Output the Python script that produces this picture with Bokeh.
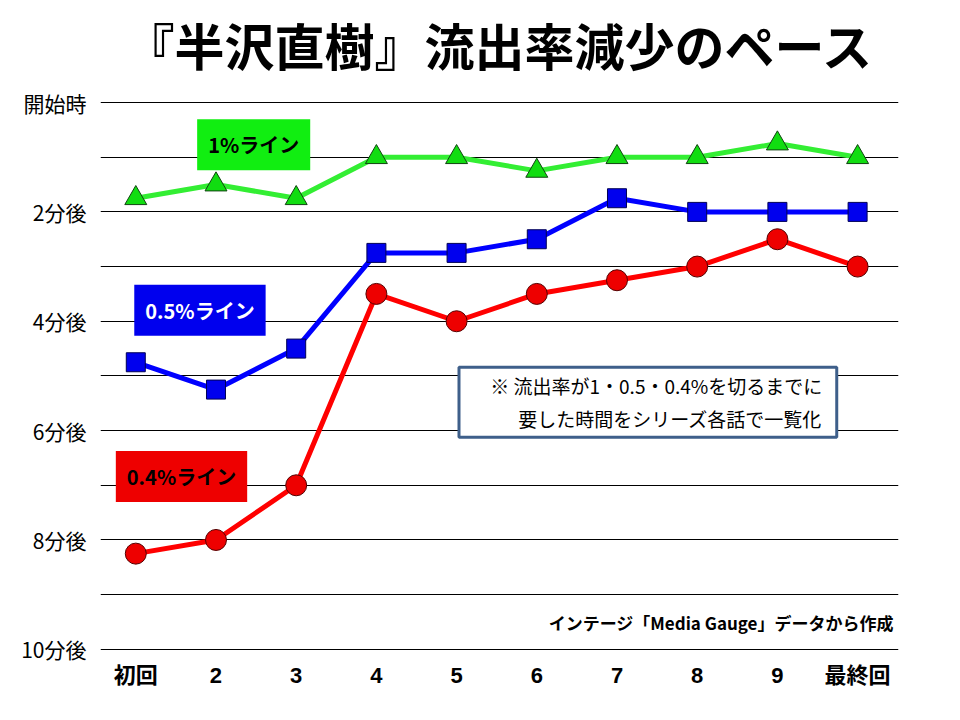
from bokeh.plotting import figure
from bokeh.models import Range1d, FixedTicker, Label, BoxAnnotation
from bokeh.embed import file_html
from bokeh.resources import INLINE

# データ（各話ごとの所要時間・分）
episodes = ["初回", "2", "3", "4", "5", "6", "7", "8", "9", "最終回"]
line_1pct = [1.75, 1.5, 1.75, 1.0, 1.0, 1.25, 1.0, 1.0, 0.75, 1.0]
line_05pct = [4.75, 5.25, 4.5, 2.75, 2.75, 2.5, 1.75, 2.0, 2.0, 2.0]
line_04pct = [8.25, 8.0, 7.0, 3.5, 4.0, 3.5, 3.25, 3.0, 2.5, 3.0]
y_ticks = [0, 2, 4, 6, 8, 10]
y_labels = ["開始時", "2分後", "4分後", "6分後", "8分後", "10分後"]

JP = "Noto Sans CJK JP"
xs = list(range(len(episodes)))

p = figure(width=944, height=704, output_backend="svg", toolbar_location=None, tools="",
           x_range=Range1d(-0.44, 9.51), y_range=Range1d(10.04, -0.33),
           min_border_left=100, min_border_right=46, min_border_top=84, min_border_bottom=53)
p.outline_line_color = None

p.title.text = "『半沢直樹』流出率減少のペース"
p.title.align = "center"
p.title.text_font = JP
p.title.text_font_size = "50px"
p.title.text_font_style = "bold"
p.title.text_color = "black"
p.title.standoff = 10

# 軸
p.xaxis.ticker = FixedTicker(ticks=xs)
p.xaxis.major_label_overrides = {i: e for i, e in enumerate(episodes)}
p.xaxis.major_label_text_font = "'Liberation Sans', 'Noto Sans CJK JP'"
p.xaxis.major_label_text_font_style = "bold"
p.xaxis.major_label_text_font_size = "22px"
p.xaxis.major_label_standoff = 5
p.yaxis.ticker = FixedTicker(ticks=y_ticks)
p.yaxis.major_label_overrides = {t: l for t, l in zip(y_ticks, y_labels)}
p.yaxis.major_label_text_font = JP
p.yaxis.major_label_text_font_size = "21px"
p.yaxis.major_label_standoff = 8
for ax in (p.xaxis, p.yaxis):
    ax.axis_line_color = None
    ax.major_tick_line_color = None
    ax.minor_tick_line_color = None
    ax.major_label_text_color = "black"

p.xgrid.grid_line_color = None
p.ygrid.ticker = FixedTicker(ticks=list(range(11)))
p.ygrid.grid_line_color = "black"
p.ygrid.grid_line_width = 1.2
p.ygrid.grid_line_alpha = 1.0

# 折れ線
p.line(xs, line_1pct, line_color="#33ee33", line_width=5)
p.scatter(xs, line_1pct, marker="triangle", size=22, fill_color="#11dd11", line_color="#114411")
p.line(xs, line_05pct, line_color="#0000ff", line_width=5)
p.scatter(xs, line_05pct, marker="square", size=19, fill_color="#0000ee", line_color="#000055")
p.line(xs, line_04pct, line_color="#ff0000", line_width=5)
p.scatter(xs, line_04pct, marker="circle", size=21, fill_color="#ee0000", line_color="#550000")

# ラベル
def tag(x, y, text, bg, fg):
    p.add_layout(Label(x=x, y=y, text=text, text_align="center", text_baseline="middle",
                       text_font=JP, text_font_style="bold", text_font_size="20px",
                       text_color=fg, background_fill_color=bg, padding=11))

tag(1.47, 0.77, "1%ライン", "#11ee11", "black")
tag(0.80, 3.80, "0.5%ライン", "#0000ee", "white")
tag(0.57, 6.84, "0.4%ライン", "#ee0000", "black")

p.add_layout(BoxAnnotation(left=4.03, right=8.74, top=4.84, bottom=6.12,
                           fill_color="white", fill_alpha=1.0,
                           line_color="#3e5f8a", line_alpha=1.0, line_width=3))
for yy, txt in [(5.17, "※ 流出率が1・0.5・0.4%を切るまでに"), (5.78, "要した時間をシリーズ各話で一覧化")]:
    p.add_layout(Label(x=8.56, y=yy, text=txt, text_align="right", text_baseline="middle",
                       text_font=JP, text_font_size="19px", text_color="black"))

p.add_layout(Label(x=9.5, y=9.51, text="インテージ「Media  Gauge」データから作成",
                   text_align="right", text_baseline="middle", text_font=JP,
                   text_font_style="bold", text_font_size="17px", text_color="black"))

open("out.html", "w").write(file_html(p, INLINE))
